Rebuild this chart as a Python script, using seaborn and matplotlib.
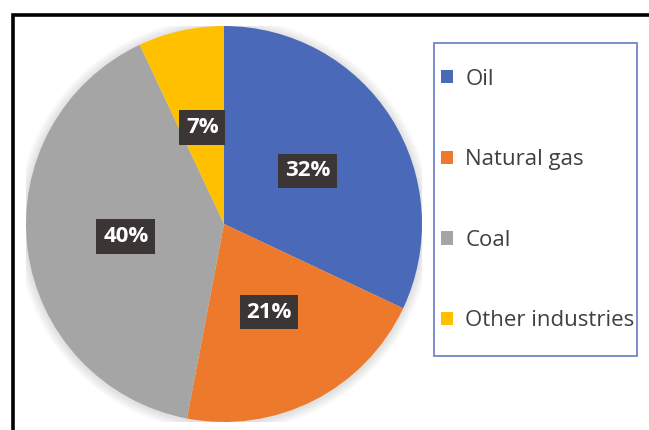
import matplotlib
matplotlib.use("Agg")
import matplotlib.pyplot as plt
import matplotlib.patches as mpatches
import seaborn as sns

categories = ["Oil", "Natural gas", "Coal", "Other industries"]
shares = [32, 21, 40, 7]
colors = ["#4A69B8", "#ED7A2C", "#A5A5A5", "#FFC000"]

sns.set_theme(style="white")
plt.rcParams["font.family"] = ["Open Sans", "DejaVu Sans"]

W, H = 649, 430
fig = plt.figure(figsize=(W / 100, H / 100), dpi=100)
fig.patch.set_facecolor("white")

cx, cy, r = 224, 224, 198
ax = fig.add_axes([(cx - r) / W, (H - cy - r) / H, 2 * r / W, 2 * r / H])

# soft shadow
for i in range(6):
    ax.add_patch(mpatches.Circle((0, -0.005), 1.0 + 0.008 * (i + 1), color="black",
                                 alpha=0.018, lw=0, zorder=0))

wedges, texts, autotexts = ax.pie(
    shares, colors=colors, startangle=90, counterclock=False,
    autopct="%1.0f%%", pctdistance=0.5, radius=1.0,
    wedgeprops=dict(linewidth=0, zorder=1),
    textprops=dict(color="white", fontsize=16, fontweight="bold"))
for t in autotexts:
    t.set_bbox(dict(boxstyle="square,pad=0.3", facecolor="#3B3535", edgecolor="none"))
    t.set_zorder(5)
ax.set_xlim(-1, 1)
ax.set_ylim(-1, 1)
ax.set_aspect("equal")
ax.axis("off")

# legend frame
lx0, lx1, ly0, ly1 = 434, 637, 43, 356
fig.add_artist(mpatches.Rectangle((lx0 / W, 1 - ly1 / H), (lx1 - lx0) / W, (ly1 - ly0) / H,
                                  transform=fig.transFigure, facecolor="white",
                                  edgecolor="#6F86C9", linewidth=1.3))
handles = [mpatches.Patch(facecolor=c, edgecolor="none") for c in colors]
leg = fig.legend(handles, categories, loc="center left",
                 bbox_to_anchor=(441 / W, 1 - 200 / H), frameon=False,
                 fontsize=16, labelcolor="#404040", handlelength=0.55, handleheight=0.55,
                 handletextpad=0.55, labelspacing=2.68, borderpad=0, borderaxespad=0)

# outer black frame (partially cropped)
fig.add_artist(mpatches.Rectangle((13 / W, -0.2), 1.2, 1.2 - 15 / H,
                                  transform=fig.transFigure, facecolor="none",
                                  edgecolor="black", linewidth=2.6, clip_on=False))

fig.savefig("out.png", dpi=100)
